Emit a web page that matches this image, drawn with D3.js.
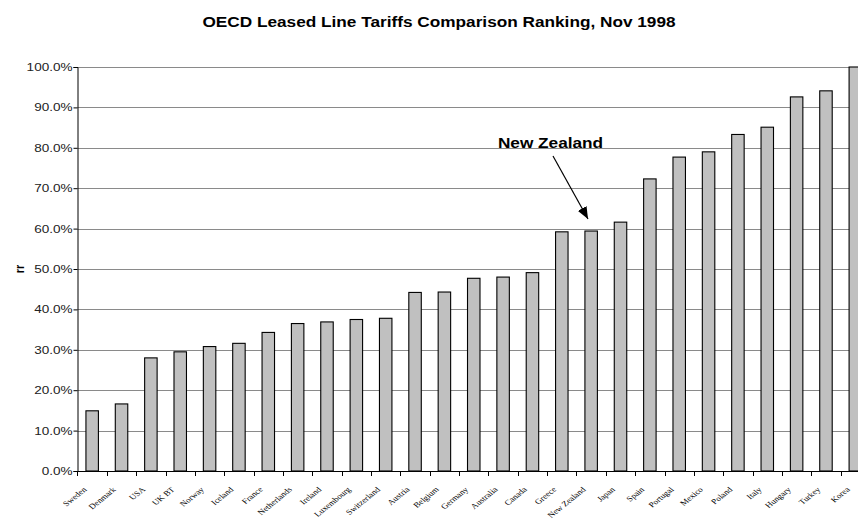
<!DOCTYPE html>
<html>
<head>
<meta charset="utf-8">
<script src="https://cdn.jsdelivr.net/npm/d3@7"></script>
<style>
  html, body { margin: 0; padding: 0; background: #fff; }
  svg { display: block; }
</style>
</head>
<body>
<svg id="chart" width="858" height="520"></svg>
<script>
// Countries ranked by leased line tariff (share of the most expensive, Korea = 100%)
const countries = ["Sweden", "Denmark", "USA", "UK BT", "Norway", "Iceland", "France",
  "Netherlands", "Ireland", "Luxembourg", "Switzerland", "Austria", "Belgium", "Germany",
  "Australia", "Canada", "Greece", "New Zealand", "Japan", "Spain", "Portugal", "Mexico",
  "Poland", "Italy", "Hungary", "Turkey", "Korea"];
const tariffRatio = [0.149, 0.166, 0.280, 0.295, 0.308, 0.316, 0.343,
  0.365, 0.369, 0.375, 0.378, 0.442, 0.443, 0.477,
  0.480, 0.491, 0.592, 0.594, 0.616, 0.723, 0.777, 0.790,
  0.833, 0.851, 0.926, 0.941, 1.000];
const yTicks = [0, 0.1, 0.2, 0.3, 0.4, 0.5, 0.6, 0.7, 0.8, 0.9, 1.0];
const titleText = "OECD Leased Line Tariffs Comparison Ranking, Nov 1998";
const yAxisTitle = "rr";
const calloutText = "New Zealand";

const svg = d3.select("#chart");
const plot = { left: 77.5, right: 870, top: 67, bottom: 471 };
// the whole chart is laid out wider than tall, so glyphs are widened to match
const stretch = 1.23;
const sansFont = "Liberation Sans, Arial, sans-serif";

const x = d3.scaleBand()
  .domain(countries)
  .range([plot.left, plot.right])
  .paddingInner(0.575)
  .paddingOuter(0.2875);

const y = d3.scaleLinear().domain([0, 1]).range([plot.bottom, plot.top]);

// horizontal gridlines
svg.append("g")
  .selectAll("line")
  .data(yTicks.slice(1))
  .join("line")
  .attr("x1", plot.left).attr("x2", plot.right)
  .attr("y1", d => Math.round(y(d)) + 0.5).attr("y2", d => Math.round(y(d)) + 0.5)
  .attr("stroke", "#8a8a8a").attr("stroke-width", 1);

// bars
svg.append("g")
  .selectAll("rect")
  .data(countries)
  .join("rect")
  .attr("x", (d) => x(d))
  .attr("y", (d, i) => y(tariffRatio[i]))
  .attr("width", x.bandwidth())
  .attr("height", (d, i) => plot.bottom - y(tariffRatio[i]))
  .attr("fill", "#c0c0c0")
  .attr("stroke", "#000")
  .attr("stroke-width", 1.1);

// y axis
const yAxis = d3.axisLeft(y)
  .tickValues(yTicks)
  .tickFormat(d3.format(".1%"))
  .tickSize(4)
  .tickPadding(3);
const gy = svg.append("g")
  .attr("transform", `translate(${plot.left},0)`)
  .call(yAxis);
gy.select(".domain").attr("stroke", "#000");
gy.selectAll(".tick line").attr("stroke", "#000");
gy.selectAll(".tick text")
  .attr("x", 0)
  .attr("transform", `translate(-5,0) scale(${stretch},1)`)
  .attr("font-family", sansFont)
  .attr("font-size", 11)
  .attr("fill", "#222");

// x axis: ticks on the category boundaries
const boundaries = countries.map(c => x(c) - x.step() * x.paddingInner() / 2);
boundaries.push(plot.right);
const gx = svg.append("g");
gx.append("line")
  .attr("x1", plot.left).attr("x2", plot.right)
  .attr("y1", plot.bottom + 0.5).attr("y2", plot.bottom + 0.5)
  .attr("stroke", "#000");
gx.selectAll("line.tick")
  .data(boundaries)
  .join("line")
  .attr("class", "tick")
  .attr("x1", d => Math.round(d) + 0.5).attr("x2", d => Math.round(d) + 0.5)
  .attr("y1", plot.bottom).attr("y2", plot.bottom + 5)
  .attr("stroke", "#000");
gx.selectAll("text")
  .data(countries)
  .join("text")
  .attr("transform", d => `translate(${x(d) + x.bandwidth() / 2 - 5},${plot.bottom + 19}) scale(${stretch},1) rotate(-45)`)
  .attr("text-anchor", "end")
  .attr("font-family", "Liberation Serif, Times New Roman, serif")
  .attr("font-size", 7.5)
  .attr("fill", "#000")
  .text(d => d);

// chart title
svg.append("text")
  .attr("transform", `translate(439,27) scale(${stretch},1)`)
  .attr("text-anchor", "middle")
  .attr("font-family", sansFont)
  .attr("font-weight", "bold")
  .attr("font-size", 14)
  .attr("fill", "#000")
  .text(titleText);

// y axis title
svg.append("text")
  .attr("transform", `translate(23.5,${(plot.top + plot.bottom) / 2}) scale(${stretch},1) rotate(-90)`)
  .attr("text-anchor", "middle")
  .attr("font-family", sansFont)
  .attr("font-weight", "bold")
  .attr("font-size", 11)
  .text(yAxisTitle);

// callout pointing at New Zealand
svg.append("defs").append("marker")
  .attr("id", "arrowhead")
  .attr("viewBox", "0 0 12 10")
  .attr("refX", 12).attr("refY", 5)
  .attr("markerWidth", 12).attr("markerHeight", 10)
  .attr("markerUnits", "userSpaceOnUse")
  .attr("orient", "auto")
  .append("path")
  .attr("d", "M0,0 L12,5 L0,10 Z")
  .attr("fill", "#000");

svg.append("text")
  .attr("transform", `translate(550.5,148) scale(${stretch},1)`)
  .attr("text-anchor", "middle")
  .attr("font-family", sansFont)
  .attr("font-weight", "bold")
  .attr("font-size", 14)
  .attr("fill", "#000")
  .text(calloutText);

svg.append("line")
  .attr("x1", 553).attr("y1", 156)
  .attr("x2", 588).attr("y2", 219)
  .attr("stroke", "#000").attr("stroke-width", 1.2)
  .attr("marker-end", "url(#arrowhead)");
</script>
</body>
</html>
